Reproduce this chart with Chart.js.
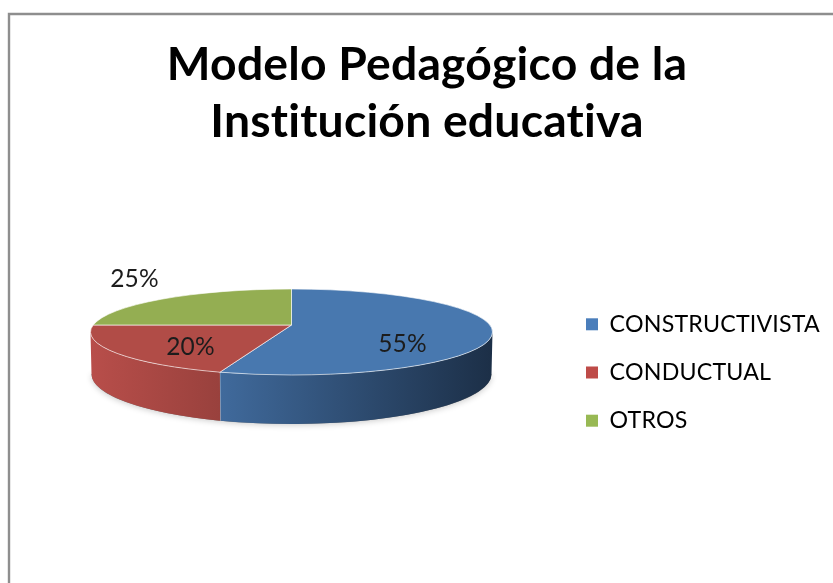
<!DOCTYPE html>
<html><head><meta charset="utf-8">
<style>html,body{margin:0;padding:0;background:#fff;overflow:hidden}canvas{display:block;filter:blur(.45px)}</style>
<script src="https://cdn.jsdelivr.net/npm/chart.js@4"></script>
</head><body><canvas id="c" width="833" height="583"></canvas>
<script>
const titleLines = ['Modelo Pedagógico de la', 'Institución educativa'];
const categories = ['CONSTRUCTIVISTA', 'CONDUCTUAL', 'OTROS'];
const values = [55, 20, 25];
const topColors = ['#4878af', '#b14c47', '#94ae52'];
const legendColors = ['#4a7ebb', '#be4b48', '#98b954'];
const wallGradients = [['#406a9c', '#1c2f47'], ['#b84e4a', '#99413d'], ['#94ae52', '#94ae52']];

const GEO = {cx: 291.5, cy: 332, rx: 201, ry: 43, apexY: 325, bottomCy: 374, bottomRx: 200, bottomRy: 50};
const labelOffsets = [[111, 19], [-101, 22], [-157, -46]];

function rimParam(theta) {
  const a = (GEO.apexY - GEO.cy) / GEO.ry, dx = Math.cos(theta), dy = Math.sin(theta);
  const b = a * dy, t = -b + Math.sqrt(b * b - (a * a - 1));
  return Math.atan2(a + t * dy, t * dx);
}
function monotonic(phi) { while (phi < -Math.PI / 2 - 1e-6) phi += 2 * Math.PI; return phi; }

const pie3d = {
  id: 'pie3d',
  beforeLayout(chart) { chart.ctx.letterSpacing = '0.2px'; },
  beforeDraw(chart) {
    const c = chart.ctx;
    c.letterSpacing = '0.2px';
    c.save();
    c.fillStyle = '#fff'; c.fillRect(0, 0, chart.width, chart.height);
    c.strokeStyle = '#8e8e8e'; c.lineWidth = 2.4;
    c.beginPath(); c.moveTo(9, chart.height); c.lineTo(9, 14); c.lineTo(chart.width, 14); c.stroke();
    c.restore();
  },
  beforeDatasetDraw(chart, args) {
    const c = chart.ctx, arcs = args.meta.data, G = GEO;
    const spans = arcs.map(a => {
      const s = monotonic(rimParam(a.startAngle));
      let e = monotonic(rimParam(a.endAngle));
      if (e <= s) e += 2 * Math.PI;
      return [s, e];
    });
    c.save();
    // soft shadow under the disc
    c.save();
    c.shadowColor = 'rgba(0,0,0,.22)'; c.shadowBlur = 6; c.shadowOffsetY = 1;
    c.fillStyle = '#777';
    c.beginPath(); c.ellipse(G.cx, G.bottomCy, G.bottomRx, G.bottomRy, 0, 0, Math.PI); c.closePath(); c.fill();
    c.restore();
    // walls
    spans.forEach(([s, e], i) => {
      const p = Math.max(s, 0), q = Math.min(e, Math.PI);
      if (q <= p) return;
      const xa = G.cx + G.rx * Math.cos(q), xb = G.cx + G.rx * Math.cos(p);
      const g = c.createLinearGradient(xa, 0, xb, 0);
      g.addColorStop(0, wallGradients[i][0]); g.addColorStop(1, wallGradients[i][1]);
      c.fillStyle = g;
      c.beginPath();
      c.ellipse(G.cx, G.cy, G.rx, G.ry, 0, p, q);
      c.ellipse(G.cx, G.bottomCy, G.bottomRx, G.bottomRy, 0, q, p, true);
      c.closePath(); c.fill();
      c.strokeStyle = 'rgba(255,255,255,.55)'; c.lineWidth = 1;
      if (q < Math.PI) {
        c.beginPath();
        c.moveTo(G.cx + G.rx * Math.cos(q), G.cy + G.ry * Math.sin(q));
        c.lineTo(G.cx + G.bottomRx * Math.cos(q), G.bottomCy + G.bottomRy * Math.sin(q));
        c.stroke();
      }
    });
    // top faces
    spans.forEach(([s, e], i) => {
      c.beginPath();
      c.moveTo(G.cx, G.apexY);
      c.ellipse(G.cx, G.cy, G.rx, G.ry, 0, s, e);
      c.closePath();
      c.fillStyle = arcs[i].options.backgroundColor;
      c.fill();
      c.strokeStyle = 'rgba(255,255,255,.6)'; c.lineWidth = 1; c.stroke();
    });
    // percentage labels
    c.fillStyle = '#1c1c1c'; c.textAlign = 'center'; c.textBaseline = 'middle';
    c.font = '24.5px Lato';
    values.forEach((v, i) => {
      c.fillText(v + '%', G.cx + labelOffsets[i][0], G.apexY + labelOffsets[i][1]);
    });
    c.restore();
    return false;
  }
};

new Chart(document.getElementById('c'), {
  type: 'pie',
  data: {labels: categories, datasets: [{data: values, backgroundColor: topColors, borderWidth: 0}]},
  plugins: [pie3d],
  options: {
    responsive: false, animation: false,
    layout: {padding: {left: 24, right: 3, top: 0, bottom: 0}},
    plugins: {
      tooltip: {enabled: false},
      title: {display: true, text: titleLines, color: '#000',
        font: {family: 'Lato', size: 46.3, weight: 'bold', lineHeight: 1.231},
        padding: {top: 37, bottom: 11}},
      legend: {position: 'right', fullSize: false,
        labels: {color: '#1c1c1c', boxWidth: 12, boxHeight: 12, padding: 25,
          font: {family: 'Lato', size: 23.2, lineHeight: 1},
          generateLabels: ch => categories.map((t, i) => ({text: t, fillStyle: legendColors[i], strokeStyle: legendColors[i], lineWidth: 0, index: i, hidden: false}))}}
    }
  }
});
</script></body></html>
